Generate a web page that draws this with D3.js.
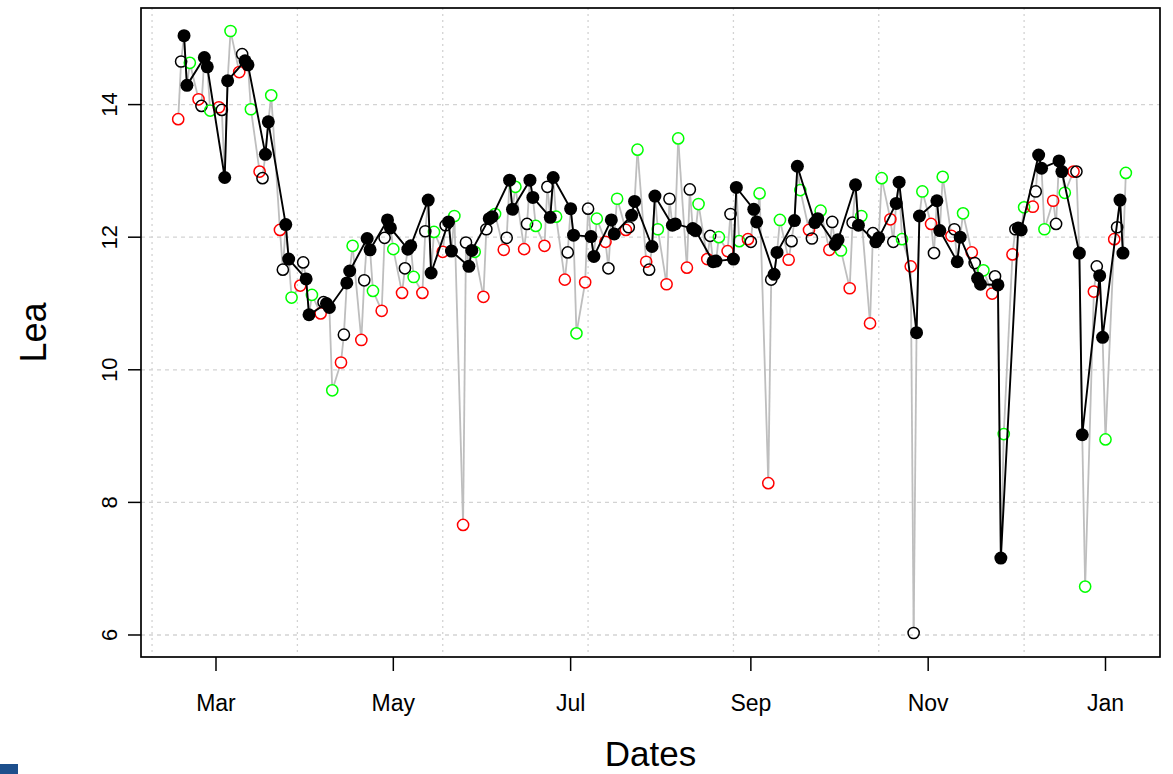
<!DOCTYPE html>
<html><head><meta charset="utf-8">
<script src="https://cdn.jsdelivr.net/npm/d3@7"></script>
<style>body{margin:0;background:#fff} svg{display:block;font-family:"Liberation Sans",Arial,sans-serif}</style>
</head><body><svg id="c" width="1173" height="774"></svg>
<script>
// Monday of each week (weekday observations Mon..Fri)
const weeks = ["2020-02-17","2020-02-24","2020-03-02","2020-03-09","2020-03-16","2020-03-23","2020-03-30",
"2020-04-06","2020-04-13","2020-04-20","2020-04-27","2020-05-04","2020-05-11","2020-05-18","2020-05-25",
"2020-06-01","2020-06-08","2020-06-15","2020-06-22","2020-06-29","2020-07-06","2020-07-13","2020-07-20",
"2020-07-27","2020-08-03","2020-08-10","2020-08-17","2020-08-24","2020-08-31","2020-09-07","2020-09-14",
"2020-09-21","2020-09-28","2020-10-05","2020-10-12","2020-10-19","2020-10-26","2020-11-02","2020-11-09",
"2020-11-16","2020-11-23","2020-11-30","2020-12-07","2020-12-14","2020-12-21","2020-12-28","2021-01-04"];
// Monday values (red open)
const monVals = [13.78,14.08,13.96,14.49,12.99,12.11,11.27,10.85,10.11,10.45,10.89,11.16,11.16,11.78,7.66,
11.10,11.81,11.82,11.87,11.36,11.32,11.93,12.11,11.63,11.29,11.54,11.67,11.79,11.97,8.29,11.66,
12.11,11.81,11.23,10.70,12.27,11.56,12.20,12.02,11.77,11.15,11.74,12.46,12.55,12.99,11.18,11.97];
// Tuesday values (black open)
const tueVals = [14.65,13.98,13.92,14.76,12.89,11.51,11.62,11.02,10.53,11.35,11.99,11.53,12.09,12.18,11.92,
12.12,11.99,12.20,12.76,11.77,12.43,11.53,12.15,11.51,12.58,12.72,12.02,12.35,11.93,11.36,11.94,
11.98,12.23,12.22,12.06,11.93,6.03,11.76,12.12,11.61,11.41,12.12,12.69,12.20,12.99,11.56,12.15];
// Wednesday values (black filled)
const wedVals = [15.04,14.71,12.90,14.66,13.25,12.19,11.37,11.00,11.31,11.98,12.26,11.82,12.56,12.23,11.56,
12.28,12.86,12.86,12.30,12.43,12.01,12.26,12.33,11.86,12.18,12.13,11.63,11.67,12.42,11.44,12.25,
12.22,11.89,12.79,11.93,12.51,10.56,12.55,11.63,11.38,11.28,12.14,13.24,13.15,11.76,11.42,12.56];
// Thursday values (black filled)
const thuVals = [14.29,14.57,14.36,14.60,13.74,11.67,10.83,10.94,11.49,11.81,12.14,11.87,11.46,11.79,11.80,
12.31,12.42,12.60,12.90,12.03,11.71,12.05,12.54,12.62,12.20,12.10,11.64,12.75,12.23,11.77,13.07,
12.28,11.96,12.18,11.99,12.83,12.32,12.10,12.00,11.29,7.16,12.11,13.04,12.99,9.02,10.49,11.76];
// Friday values (green open)
const friVals = [14.63,13.91,15.11,13.93,14.14,11.09,11.13,9.69,11.87,11.19,11.82,11.40,12.08,12.32,11.78,
12.35,12.76,12.17,12.31,10.55,12.28,12.58,13.32,12.12,13.49,12.50,12.00,11.94,12.66,12.26,12.71,
12.40,11.80,12.32,12.89,11.97,12.69,12.91,12.36,11.50,9.03,12.45,12.12,12.67,6.73,8.95,12.97];

const monthTicks = ["2020-03-01","2020-05-01","2020-07-01","2020-09-01","2020-11-01","2021-01-01"];
const monthLabels = ["Mar","May","Jul","Sep","Nov","Jan"];
const gridDates = ["2020-02-08","2020-03-29","2020-05-18","2020-07-07","2020-08-26","2020-10-15","2020-12-04"];
const yTicks = [6,8,10,12,14];

const parse = d3.utcParse("%Y-%m-%d");
const svg = d3.select("#c");
const L=141,R=1160,T=8,B=657;
const x = d3.scaleUtc().domain([new Date(Date.UTC(2020,1,4,4,48)), new Date(Date.UTC(2021,0,19,18))]).range([L,R]);
const y = d3.scaleLinear().domain([5.668,15.457]).range([B,T]);

const series = [monVals,tueVals,wedVals,thuVals,friVals];
const pts = [];
weeks.forEach((w,i)=>{
  const d0 = parse(w);
  series.forEach((s,k)=>{
    if (s[i]!=null) pts.push({date:d3.utcDay.offset(d0,k), v:s[i], k});
  });
});
pts.sort((a,b)=>a.date-b.date);

// grid
const g = svg.append("g");
g.selectAll("line.gx").data(gridDates).join("line")
  .attr("x1",d=>x(parse(d))).attr("x2",d=>x(parse(d))).attr("y1",T).attr("y2",B)
  .attr("stroke","#d3d3d3").attr("stroke-width",1.3).attr("stroke-dasharray","2,4");
g.selectAll("line.gy").data(yTicks).join("line")
  .attr("x1",L).attr("x2",R).attr("y1",d=>y(d)).attr("y2",d=>y(d))
  .attr("stroke","#d3d3d3").attr("stroke-width",1.3).attr("stroke-dasharray","4,4");

// gray connecting line with gaps at points (type="b")
const gap = 5.8;
const segs = [];
for (let i=1;i<pts.length;i++){
  const x1=x(pts[i-1].date), y1=y(pts[i-1].v), x2=x(pts[i].date), y2=y(pts[i].v);
  const dx=x2-x1, dy=y2-y1, len=Math.hypot(dx,dy);
  if (len>2*gap) segs.push([x1+dx/len*gap, y1+dy/len*gap, x2-dx/len*gap, y2-dy/len*gap]);
}
svg.append("g").selectAll("line").data(segs).join("line")
  .attr("x1",d=>d[0]).attr("y1",d=>d[1]).attr("x2",d=>d[2]).attr("y2",d=>d[3])
  .attr("stroke","#bebebe").attr("stroke-width",1.8);

const colors = ["#ff0000","#000000",null,null,"#00ff00"];
svg.append("g").selectAll("circle").data(pts.filter(p=>p.k===0||p.k===1||p.k===4)).join("circle")
  .attr("cx",d=>x(d.date)).attr("cy",d=>y(d.v)).attr("r",5.6)
  .attr("fill","none").attr("stroke",d=>colors[d.k]).attr("stroke-width",1.5);

const filled = pts.filter(p=>p.k===2||p.k===3);
svg.append("path").datum(filled)
  .attr("d",d3.line().x(d=>x(d.date)).y(d=>y(d.v)))
  .attr("fill","none").attr("stroke","#000").attr("stroke-width",1.9);
svg.append("g").selectAll("circle").data(filled).join("circle")
  .attr("cx",d=>x(d.date)).attr("cy",d=>y(d.v)).attr("r",6.5).attr("fill","#000");

// frame
svg.append("rect").attr("x",L).attr("y",T).attr("width",R-L).attr("height",B-T)
  .attr("fill","none").attr("stroke","#000").attr("stroke-width",1.7);

// x axis
const xa = svg.append("g");
xa.selectAll("line").data(monthTicks).join("line")
  .attr("x1",d=>x(parse(d))).attr("x2",d=>x(parse(d))).attr("y1",B).attr("y2",B+14)
  .attr("stroke","#000").attr("stroke-width",1.5);
xa.selectAll("text").data(monthTicks).join("text")
  .attr("x",d=>x(parse(d))).attr("y",711).attr("text-anchor","middle")
  .attr("font-size",23).text((d,i)=>monthLabels[i]);

// y axis
const ya = svg.append("g");
ya.selectAll("line").data(yTicks).join("line")
  .attr("x1",L-13).attr("x2",L).attr("y1",d=>y(d)).attr("y2",d=>y(d))
  .attr("stroke","#000").attr("stroke-width",1.5);
ya.selectAll("text").data(yTicks).join("text")
  .attr("transform",d=>`translate(117,${y(d)}) rotate(-90)`).attr("text-anchor","middle")
  .attr("font-size",22).text(d=>d);

svg.append("text").attr("x",(L+R)/2).attr("y",766).attr("text-anchor","middle")
  .attr("font-size",35).text("Dates");
svg.append("text").attr("transform",`translate(46,${(T+B)/2}) rotate(-90)`).attr("text-anchor","middle")
  .attr("font-size",36).text("Lea");

svg.append("rect").attr("x",0).attr("y",764).attr("width",18).attr("height",10).attr("fill","#1d4f8c");
</script></body></html>
